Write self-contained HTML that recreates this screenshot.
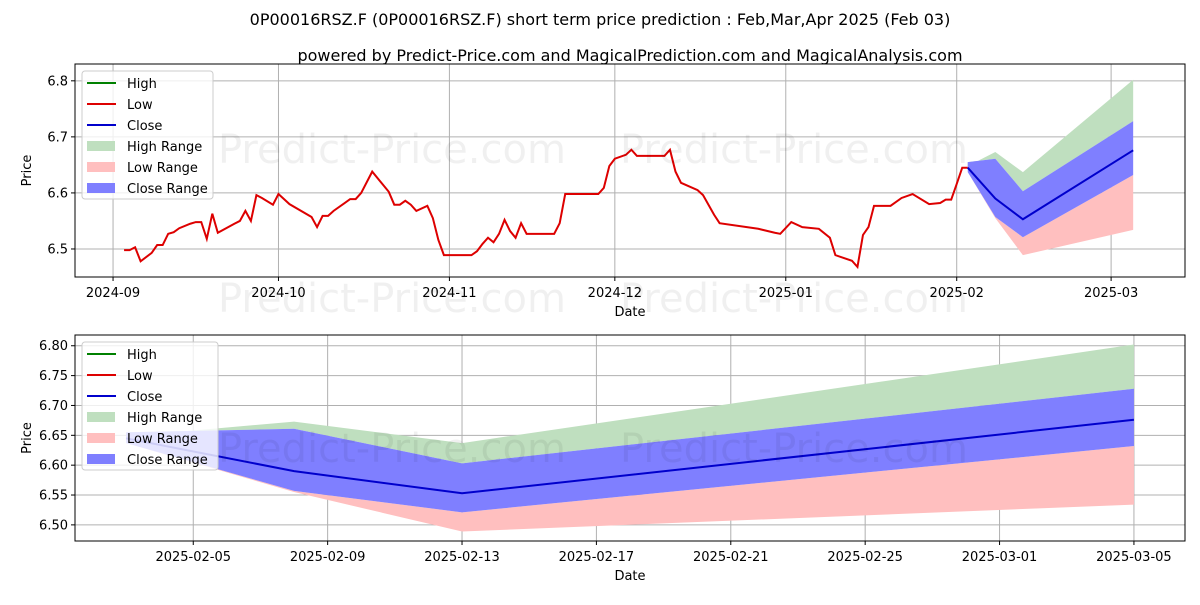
<!DOCTYPE html>
<html><head><meta charset="utf-8"><style>
body{margin:0;background:#fff;font-family:"Liberation Sans","DejaVu Sans",sans-serif}
svg text{font-family:"DejaVu Sans","Liberation Sans",sans-serif}
</style></head><body>
<svg id="c" width="1200" height="600" xmlns="http://www.w3.org/2000/svg"></svg>
<script>
// historical low series: days since 2024-09-01, values
const histDays=[2,3,4,5,7,8,9,10,11,12,14,15,16,17,18,19,22,23,24,25,26,27,29,30,32,36,37,38,39,40,42,43,44,45,47,50,51,52,53,54,55,57,58,59,60,65,66,67,68,69,70,71,72,73,74,75,80,81,82,88,89,90,91,93,94,95,100,101,102,103,106,107,109,110,117,120,121,123,125,128,130,131,134,135,136,137,138,141,143,145,148,150,151,152,153,154,155];
const histLow=[6.498,6.498,6.503,6.478,6.493,6.507,6.507,6.527,6.530,6.537,6.545,6.548,6.548,6.518,6.563,6.529,6.545,6.550,6.568,6.550,6.596,6.591,6.579,6.598,6.580,6.557,6.539,6.559,6.559,6.568,6.582,6.589,6.589,6.600,6.638,6.602,6.579,6.579,6.586,6.579,6.568,6.577,6.555,6.516,6.489,6.489,6.496,6.509,6.520,6.512,6.527,6.552,6.532,6.520,6.546,6.527,6.527,6.546,6.598,6.598,6.609,6.648,6.661,6.668,6.677,6.666,6.666,6.677,6.638,6.618,6.605,6.596,6.561,6.546,6.536,6.529,6.527,6.548,6.539,6.536,6.520,6.489,6.479,6.468,6.525,6.539,6.577,6.577,6.591,6.598,6.580,6.582,6.588,6.588,6.616,6.645,6.645];
// forecast: Feb 3, Feb 8, Feb 13, Mar 5 (days since 2024-09-01)
const fcDays=[155,160,165,185];
const closeVals=[6.645,6.590,6.553,6.676];
const closeHi=[6.655,6.661,6.603,6.728];
const closeLo=[6.637,6.557,6.521,6.632];
const highHi=[6.648,6.673,6.637,6.802];
const lowLo=[6.637,6.555,6.489,6.534];
const topTicksY=[6.5,6.6,6.7,6.8];
const topTickLabels=["2024-09","2024-10","2024-11","2024-12","2025-01","2025-02","2025-03"];
const topTickDays=[0,30,61,91,122,153,181];
const botTicksY=[6.50,6.55,6.60,6.65,6.70,6.75,6.80];
const botTickLabels=["2025-02-05","2025-02-09","2025-02-13","2025-02-17","2025-02-21","2025-02-25","2025-03-01","2025-03-05"];
const botTickDays=[157,161,165,169,173,177,181,185];

const svg=document.getElementById('c');const NS="http://www.w3.org/2000/svg";
function mk(t,a,p){const e=document.createElementNS(NS,t);for(const k in a)e.setAttribute(k,a[k]);(p||svg).appendChild(e);return e;}
function txt(s,a,p){const e=mk('text',a,p);e.textContent=s;return e;}

function panel(cfg){
 const {L,R,T,B,x0,x1,y0,y1,name}=cfg;
 const g=mk('g',{});
 
 
 const X=d=>L+(d-x0)/(x1-x0)*(R-L), Y=v=>B-(v-y0)/(y1-y0)*(B-T);
 cfg.yt.forEach(v=>{mk('line',{x1:L,x2:R,y1:Y(v),y2:Y(v),stroke:'#b0b0b0','stroke-width':1},g);
  mk('line',{x1:L-4,x2:L,y1:Y(v),y2:Y(v),stroke:'#000'},g);
  const t=txt(v.toFixed(cfg.yd),{x:L-7,y:Y(v)+4.5,'font-size':13,'text-anchor':'end'},g);
  });
 cfg.xt.forEach((d,i)=>{mk('line',{x1:X(d),x2:X(d),y1:T,y2:B,stroke:'#b0b0b0','stroke-width':1},g);
  mk('line',{x1:X(d),x2:X(d),y1:B,y2:B+4,stroke:'#000'},g);
  const t=txt(cfg.xl[i],{x:X(d),y:B+20,'font-size':13,'text-anchor':'middle'},g);
  });
 const cp=mk('clipPath',{id:'cl'+name},g);mk('rect',{x:L,y:T,width:R-L,height:B-T},cp);
 const cg=mk('g',{'clip-path':'url(#cl'+name+')'},g);
 const band2=(hi,lo,col,nm)=>{let p='';fcDays.forEach((d,i)=>p+=(i?'L':'M')+X(d)+' '+Y(hi[i]));
  for(let i=fcDays.length-1;i>=0;i--)p+='L'+X(fcDays[i])+' '+Y(lo[i]);
  const e=mk('path',{d:p+'Z',fill:col},cg);};
 band2(highHi,closeHi,'#bfdfbf','high-range-band');
 band2(closeLo,lowLo,'#ffbfbf','low-range-band');
 band2(closeHi,closeLo,'#7f7fff','close-range-band');
 if(cfg.hist){const e=mk('polyline',{points:histDays.map((d,i)=>X(d)+','+Y(histLow[i])).join(' '),fill:'none',stroke:'#dd0000','stroke-width':2},cg);
  }
 const cl=mk('polyline',{points:fcDays.map((d,i)=>X(d)+','+Y(closeVals[i])).join(' '),fill:'none',stroke:'#0000cc','stroke-width':2},cg);
 
 cfg.wm.forEach(w=>{const t=txt('Predict-Price.com',{x:w[0],y:w[1],'font-size':40,fill:'#000','fill-opacity':0.06},g);
  });
 mk('rect',{x:L,y:T,width:R-L,height:B-T,fill:'none',stroke:'#000','stroke-width':1},g);
 const yl=txt('Price',{x:0,y:0,'font-size':13,'text-anchor':'middle',transform:`translate(${L-44},${(T+B)/2}) rotate(-90)`},g);
 
 const xl=txt('Date',{x:(L+R)/2,y:B+39,'font-size':13,'text-anchor':'middle'},g);
 
 const lg=mk('g',{},g);
 const lx=L+7,ly=T+7;
 mk('rect',{x:lx,y:ly,width:cfg.lw,height:128,rx:3,fill:'#fff','fill-opacity':0.8,stroke:'#ccc'},lg);
 const ents=[['High','line','#008000'],['Low','line','#dd0000'],['Close','line','#0000cc'],['High Range','box','#bfdfbf'],['Low Range','box','#ffbfbf'],['Close Range','box','#7f7fff']];
 ents.forEach((e,i)=>{const yy=ly+12+i*21;
  if(e[1]=='line')mk('line',{x1:lx+5,x2:lx+34,y1:yy,y2:yy,stroke:e[2],'stroke-width':2},lg);
  else mk('rect',{x:lx+5,y:yy-5,width:28,height:10,fill:e[2]},lg);
  const t=txt(e[0],{x:lx+45,y:yy+5,'font-size':13},lg);});
}
const t1=txt('0P00016RSZ.F (0P00016RSZ.F) short term price prediction : Feb,Mar,Apr 2025 (Feb 03)',{x:600,y:25,'font-size':16,'text-anchor':'middle'});

const t2=txt('powered by Predict-Price.com and MagicalPrediction.com and MagicalAnalysis.com',{x:630,y:61,'font-size':16,'text-anchor':'middle'});

panel({name:'top-panel',L:75,R:1185,T:64,B:277,x0:-6.9,x1:194.4,y0:6.450,y1:6.830,yt:topTicksY,yd:1,xt:topTickDays,xl:topTickLabels,hist:true,lw:131,wm:[[218,163],[620,163],[218,312],[620,312]]});
panel({name:'bottom-panel',L:75,R:1185,T:335,B:541,x0:155-1.52,x1:185+1.52,y0:6.473,y1:6.818,yt:botTicksY,yd:2,xt:botTickDays,xl:botTickLabels,hist:false,lw:136,wm:[[218,462],[620,462]]});
</script>
</body></html>
